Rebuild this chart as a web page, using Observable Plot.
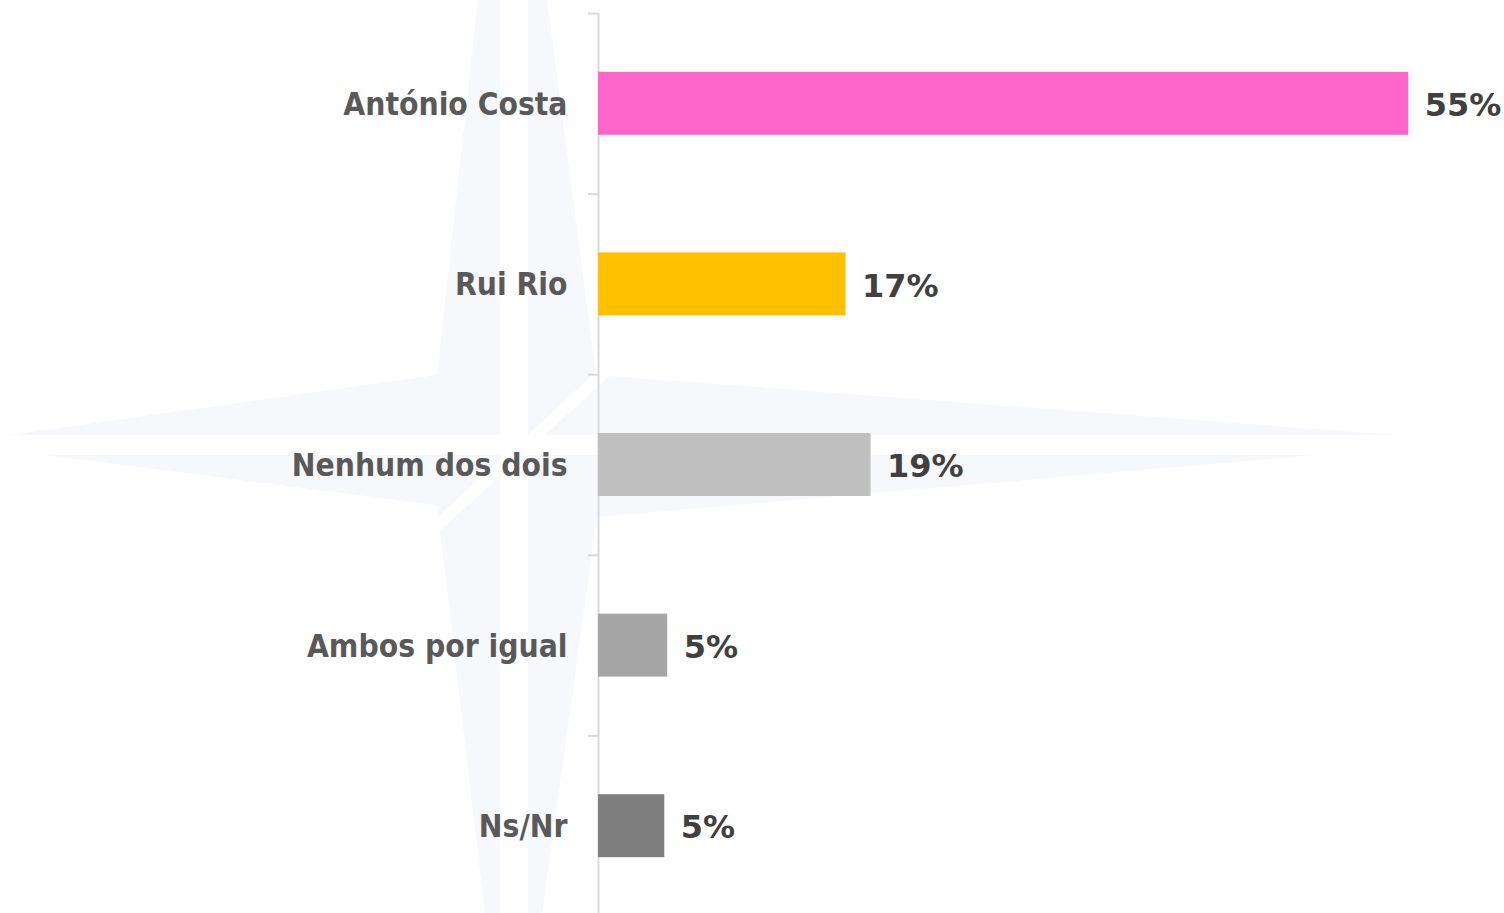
<!DOCTYPE html>
<html>
<head>
<meta charset="utf-8">
<script src="https://cdn.jsdelivr.net/npm/d3@7"></script>
<script src="https://cdn.jsdelivr.net/npm/@observablehq/plot@0.6"></script>
<style>
  html, body { margin: 0; padding: 0; background: #ffffff; overflow: hidden; }
  #chart svg { background: transparent !important; display: block; }
</style>
</head>
<body>
<div id="chart"></div>
<script>
// ---- Data ----
const categories = ["António Costa", "Rui Rio", "Nenhum dos dois", "Ambos por igual", "Ns/Nr"];
const values = [55, 16.8, 18.5, 4.7, 4.5];
const valueLabels = ["55%", "17%", "19%", "5%", "5%"];
const colors = ["#FF66CC", "#FFC000", "#BFBFBF", "#A6A6A6", "#7F7F7F"];

const data = categories.map((c, i) => ({category: c, value: values[i], label: valueLabels[i], color: colors[i]}));

// ---- Layout ----
const W = 1504, H = 916, mL = 598, mT = 13;
const xMax = 61.5;
const pxPerUnit = (W - mL) / xMax;
const step = (H - mT) / categories.length;
const paddingInner = 1 - 63 / step;

// decorative compass-star watermark (background, not data)
function watermark() {
  const g = d3.create("svg:g");
  const fill = "#F6F8FC";
  const pieces = [
    [[478,-1],[500,-1],[500,435],[10,435],[437,375]],
    [[528,-1],[547,-1],[596,375],[1395,435],[528,435]],
    [[500,455],[45,455],[437,505],[485,914],[500,914]],
    [[528,455],[1315,455],[597,517],[542,914],[528,914]]
  ];
  for (const p of pieces) {
    g.append("path").attr("d", "M" + p.map(q => q.join(",")).join("L") + "Z").attr("fill", fill);
  }
  g.append("line").attr("x1", 605).attr("y1", 372).attr("x2", 430).attr("y2", 532)
    .attr("stroke", "#ffffff").attr("stroke-width", 12);
  return g.node();
}

const chart = Plot.plot({
  width: W,
  height: H,
  marginLeft: mL,
  marginRight: 0,
  marginTop: mT,
  marginBottom: 0,
  style: {background: "transparent", fontFamily: "'DejaVu Sans', sans-serif"},
  x: {domain: [0, xMax], axis: null},
  y: {domain: categories, paddingInner, paddingOuter: paddingInner / 2, round: false, axis: null},
  marks: [
    watermark,
    Plot.ruleX([0], {stroke: "#D9D9D9", strokeWidth: 2}),
    Plot.ruleY(categories, {y: d => d, x1: -10 / pxPerUnit, x2: 0, dy: -step / 2, stroke: "#D9D9D9", strokeWidth: 2}),
    Plot.barX(data, {y: "category", x: "value", fill: "color"}),
    Plot.text(data, {
      y: "category", x: 0, text: "category", textAnchor: "end", dx: -31, dy: 1,
      fill: "#595959", fontSize: 31.5, fontWeight: "bold",
      fontFamily: "'DejaVu Sans Condensed', 'DejaVu Sans', sans-serif", fontStretch: "condensed"
    }),
    Plot.text(data, {
      y: "category", x: "value", text: "label", textAnchor: "start", dx: 16, dy: 2,
      fill: "#404040", fontSize: 32, fontWeight: "bold",
      fontFamily: "'DejaVu Sans', sans-serif"
    })
  ]
});
document.getElementById("chart").appendChild(chart);
</script>
</body>
</html>
